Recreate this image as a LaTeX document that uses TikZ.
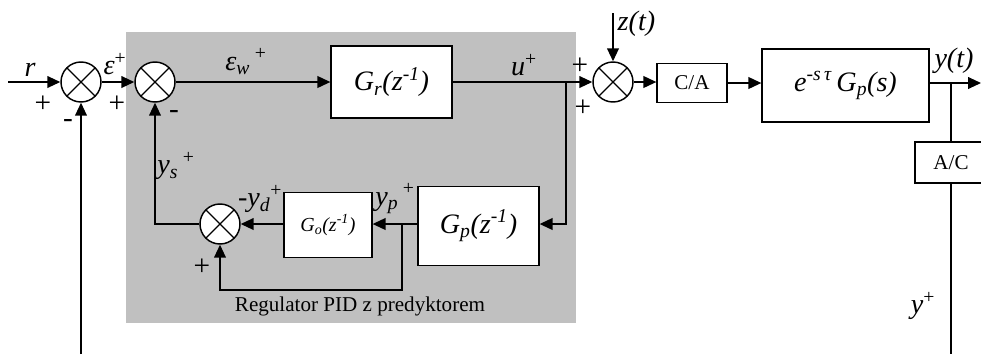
\documentclass[tikz,border=0pt]{standalone}
\usepackage{fontspec}
\setmainfont{Liberation Serif}
\usetikzlibrary{arrows.meta}
\definecolor{regbg}{RGB}{192,192,192}
\newcommand{\lblfont}{\fontsize{24}{27}\selectfont\itshape}
\newcommand{\sgnfont}{\fontsize{25}{28}\selectfont\upshape}
\begin{document}
\begin{tikzpicture}[x=0.03cm,y=-0.03cm,line width=1.25pt,
  sig/.style={-{Triangle[length=11pt,width=10pt]}},
  sumj/.style={circle,draw,fill=white,minimum size=1.2cm,inner sep=0pt,
    path picture={\draw[line width=1.1pt] (path picture bounding box.north west)--(path picture bounding box.south east)
      (path picture bounding box.north east)--(path picture bounding box.south west);}},
  blk/.style={draw,fill=white,inner sep=0pt,line width=1.1pt},
  lbl/.style={font=\lblfont,inner sep=0pt},
  sgn/.style={font=\sgnfont,inner sep=0pt}]
\clip (0,0) rectangle (981,354);
\fill[white] (0,0) rectangle (981,354);
\fill[regbg] (126,32) rectangle (576,323);
% junctions
\node[sumj] (s1) at (81,82) {};
\node[sumj] (s2) at (155,82) {};
\node[sumj] (s3) at (220,224) {};
\node[sumj] (s4) at (613,82) {};
% blocks
\node[blk,minimum width=3.63cm,minimum height=2.16cm,font=\fontsize{24}{28}\selectfont\itshape] (gr) at (391.5,82) {G\textsubscript{r}(z\textsuperscript{-1})};
\node[blk,minimum width=3.63cm,minimum height=2.37cm,font=\fontsize{24}{28}\selectfont\itshape] (gp) at (478.5,226) {G\textsubscript{p}(z\textsuperscript{-1})};
\node[blk,minimum width=2.64cm,minimum height=1.95cm,font=\fontsize{17}{20}\selectfont\itshape] (go) at (328,225) {G\textsubscript{o}(z\textsuperscript{-1})};
\node[blk,minimum width=2.1cm,minimum height=1.17cm,font=\fontsize{18}{20}\selectfont] (ca) at (692,83) {C/A};
\node[blk,minimum width=5.01cm,minimum height=2.19cm,font=\fontsize{24}{28}\selectfont\itshape] (big) at (845.5,85.5) {e\textsuperscript{-s\,τ}\,G\textsubscript{p}(s)};
\node[blk,minimum width=2.16cm,minimum height=1.23cm,font=\fontsize{18}{20}\selectfont] (ac) at (951,162.5) {A/C};
% coordinates
\coordinate (rin) at (8,82);
\coordinate (ubr) at (566,82);
\coordinate (ybr) at (951,83);
\coordinate (yout) at (981,83);
\coordinate (zin) at (613,13);
\coordinate (bot1) at (81,354);
\coordinate (bot2) at (951,354);
\coordinate (ypbr) at (402,224);
\coordinate (ypd) at (402,290);
% connectors
\draw[sig] (rin) -- (s1.west);
\draw[sig] (s1.east) -- (s2.west);
\draw[sig] (s2.east) -- (gr.west);
\draw[sig] (gr.east) -- (s4.west);
\draw[sig] (ubr) |- (gp.east |- ypbr);
\draw[sig] (gp.west |- ypbr) -- (go.east |- ypbr);
\draw[sig] (go.west |- s3) -- (s3.east);
\draw[sig] (s3.west) -| (s2.south);
\draw[sig] (ypbr) -- (ypd) -| (s3.south);
\draw[sig] (zin) -- (s4.north);
\draw[sig] (s4.east) -- (ca.west |- s4);
\draw[sig] (ca.east) -- (ca.east -| big.west);
\draw[sig] (big.east |- ybr) -- (yout);
\draw (ybr) -- (ac.north);
\draw (ac.south) -- (bot2);
\draw[sig] (bot1) -- (s1.south);
% labels
\node[lbl] (lr) at (30,70) {r};
\node[lbl] (leps) at (115,64) {ε\textsuperscript{\upshape +}};
\node[lbl] (lepsw) at (246,62) {ε\textsubscript{w}\,\textsuperscript{\upshape +}};
\node[lbl] (lu) at (524,65) {u\textsuperscript{\upshape +}};
\node[lbl,anchor=west] (lz) at (617,24) {z(t)};
\node[lbl] (lyt) at (954,61) {y(t)};
\node[lbl] (lys) at (176,166) {y\textsubscript{s}\,\textsuperscript{\upshape +}};
\node[lbl] (lyd) at (260,199) {-y\textsubscript{d}\textsuperscript{\upshape +}};
\node[lbl] (lyp) at (395,199) {y\textsubscript{p}\,\textsuperscript{\upshape +}};
\node[lbl] (ly) at (923,306) {y\textsuperscript{\upshape +}};
\node[sgn] (p1) at (43,104) {+};
\node[sgn] (p2) at (117,104) {+};
\node[sgn] (p3) at (580,66) {+};
\node[sgn] (p4) at (583,108) {+};
\node[sgn] (p5) at (202,267) {+};
\node[sgn] (m1) at (68,123) {-};
\node[sgn] (m2) at (174,114) {-};
\node[font=\fontsize{18}{20}\selectfont,inner sep=0pt] (reg) at (360,306) {Regulator PID z predyktorem};
\end{tikzpicture}
\end{document}
